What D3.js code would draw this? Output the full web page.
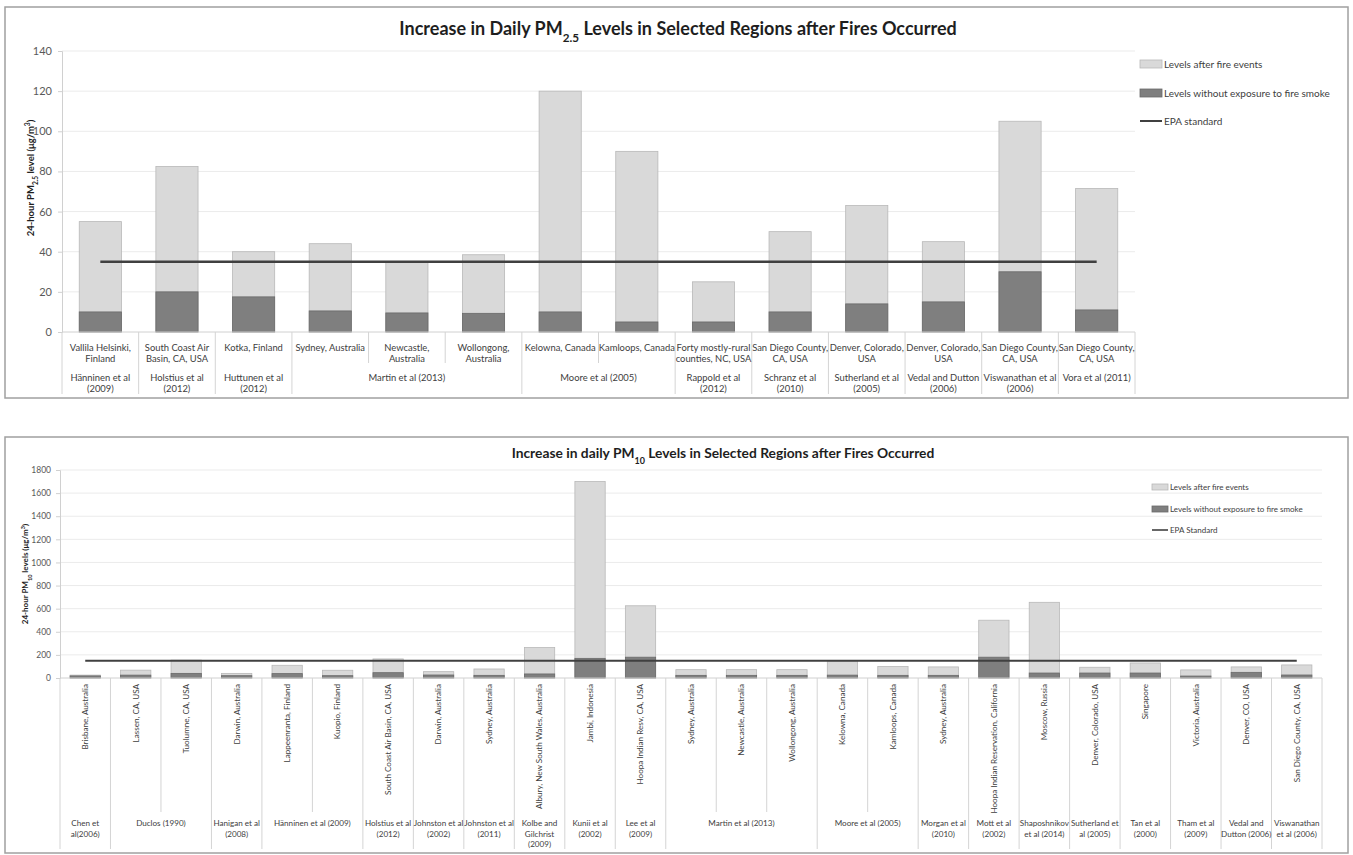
<!DOCTYPE html>
<html>
<head>
<meta charset="utf-8">
<script src="https://cdn.jsdelivr.net/npm/d3@7"></script>
<style>
  body { margin: 0; background: #fff; }
  svg { display: block; }
</style>
</head>
<body>
<svg id="chart" width="1353" height="855"></svg>
<script>
// ---------- PM2.5 panel data ----------
const pm25Sites = [
  "Vallila Helsinki,|Finland", "South Coast Air|Basin, CA, USA", "Kotka, Finland",
  "Sydney, Australia", "Newcastle,|Australia", "Wollongong,|Australia",
  "Kelowna, Canada", "Kamloops, Canada", "Forty mostly-rural|counties, NC, USA",
  "San Diego County,|CA, USA", "Denver, Colorado,|USA", "Denver, Colorado,|USA",
  "San Diego County,|CA, USA", "San Diego County,|CA, USA"
];
const pm25Studies = [
  "Hänninen et al|(2009)", "Holstius et al|(2012)", "Huttunen et al|(2012)",
  "Martin et al (2013)", "Martin et al (2013)", "Martin et al (2013)",
  "Moore et al (2005)", "Moore et al (2005)", "Rappold et al|(2012)",
  "Schranz et al|(2010)", "Sutherland et al|(2005)", "Vedal and Dutton|(2006)",
  "Viswanathan et al|(2006)", "Vora et al (2011)"
];
const pm25After    = [55, 82.5, 40, 44, 35, 38.5, 120, 90, 25, 50, 63, 45, 105, 71.5];
const pm25Baseline = [10, 20, 17.5, 10.5, 9.5, 9.3, 10, 5, 5, 10, 14, 15, 30, 11];
const pm25Standard = 35;
const pm25Ticks = [0, 20, 40, 60, 80, 100, 120, 140];

// ---------- PM10 panel data ----------
const pm10Sites = [
  "Brisbane, Australia", "Lassen, CA, USA", "Tuolumne, CA, USA", "Darwin, Australia",
  "Lappeenranta, Finland", "Kuopio, Finland", "South Coast Air Basin, CA, USA",
  "Darwin, Australia", "Sydney, Australia", "Albury, New South Wales, Australia",
  "Jambi, Indonesia", "Hoopa Indian Resv, CA, USA", "Sydney, Australia",
  "Newcastle, Australia", "Wollongong, Australia", "Kelowna, Canada", "Kamloops, Canada",
  "Sydney, Australia", "Hoopa Indian Reservation, California", "Moscow, Russia",
  "Denver, Colorado, USA", "Singapore", "Victoria, Australia", "Denver, CO, USA",
  "San Diego County, CA, USA"
];
const pm10Studies = [
  "Chen et|al(2006)", "Duclos (1990)", "Duclos (1990)", "Hanigan et al|(2008)",
  "Hänninen et al (2009)", "Hänninen et al (2009)", "Holstius et al|(2012)",
  "Johnston et al|(2002)", "Johnston et al|(2011)", "Kolbe and|Gilchrist|(2009)",
  "Kunii et al|(2002)", "Lee et al|(2009)", "Martin et al (2013)", "Martin et al (2013)",
  "Martin et al (2013)", "Moore et al (2005)", "Moore et al (2005)", "Morgan et al|(2010)",
  "Mott et al|(2002)", "Shaposhnikov|et al (2014)", "Sutherland et|al (2005)",
  "Tan et al|(2000)", "Tham et al|(2009)", "Vedal and|Dutton (2006)", "Viswanathan|et al (2006)"
];
const pm10After    = [25, 68, 155, 40, 110, 67, 165, 55, 78, 264, 1700, 625, 72, 72, 72,
                      148, 100, 96, 500, 655, 93, 130, 70, 96, 113];
const pm10Baseline = [18, 25, 40, 20, 38, 20, 46, 26, 23, 35, 170, 180, 23, 23, 23,
                      25, 23, 23, 180, 43, 43, 43, 17, 49, 26];
const pm10Standard = 150;
const pm10Ticks = [0, 200, 400, 600, 800, 1000, 1200, 1400, 1600, 1800];

const legendLabels25 = ["Levels after fire events", "Levels without exposure to fire smoke", "EPA standard"];
const legendLabels10 = ["Levels after fire events", "Levels without exposure to fire smoke", "EPA Standard"];

const FONT = "Lato, 'Open Sans', sans-serif";
const LIGHT = "#d9d9d9", LIGHT_EDGE = "#b8b8b8";
const DARK = "#7f7f7f", DARK_EDGE = "#6a6a6a";
const LINE = "#404040", TEXT = "#404040";

const svg = d3.select("#chart").style("font-family", FONT);

// append multi-line text (lines separated by "|")
function multiline(sel, str, lineH) {
  const lines = str.split("|");
  lines.forEach((ln, k) => {
    sel.append("tspan").attr("x", sel.attr("x")).attr("dy", k === 0 ? 0 : lineH).text(ln);
  });
}

function groupsOf(studies) {
  const g = [];
  studies.forEach((s, i) => {
    if (g.length && g[g.length - 1].name === s) g[g.length - 1].end = i;
    else g.push({ name: s, start: i, end: i });
  });
  return g;
}

function drawPanel(p) {
  const root = svg.append("g");
  const n = p.sites.length;

  // frame
  root.append("rect")
    .attr("x", p.frame[0]).attr("y", p.frame[1])
    .attr("width", p.frame[2]).attr("height", p.frame[3])
    .attr("fill", "#fff").attr("stroke", "#a0a0a0").attr("stroke-width", 1.5);

  const x = d3.scaleBand().domain(d3.range(n)).range([p.left, p.right]).padding(0);
  const step = x.step();
  const y = d3.scaleLinear().domain([0, d3.max(p.ticks)]).range([p.bottom, p.top]);

  // gridlines
  root.append("g").selectAll("line").data(p.ticks.filter(t => t > 0)).join("line")
    .attr("x1", p.left).attr("x2", p.right)
    .attr("y1", d => y(d)).attr("y2", d => y(d))
    .attr("stroke", "#ebebeb").attr("stroke-width", 1);

  // y axis
  const ax = root.append("g").attr("transform", `translate(${p.left},0)`)
    .call(d3.axisLeft(y).tickValues(p.ticks).tickFormat(d3.format("d")).tickSize(4).tickPadding(p.tickPad));
  ax.select(".domain").attr("stroke", "#d0d0d0");
  ax.selectAll(".tick line").attr("stroke", "#d0d0d0");
  ax.selectAll(".tick text").attr("fill", "#595959")
    .style("font-family", FONT).style("font-size", p.tickFont + "px");

  // bars: total level after fire, with the smoke-free baseline over it
  const bw = step * p.barFrac;
  root.append("g").selectAll("rect").data(p.after).join("rect")
    .attr("x", (d, i) => x(i) + (step - bw) / 2).attr("width", bw)
    .attr("y", d => y(d)).attr("height", d => y(0) - y(d))
    .attr("fill", LIGHT).attr("stroke", LIGHT_EDGE).attr("stroke-width", 0.8);
  root.append("g").selectAll("rect").data(p.baseline).join("rect")
    .attr("x", (d, i) => x(i) + (step - bw) / 2).attr("width", bw)
    .attr("y", d => y(d)).attr("height", d => y(0) - y(d))
    .attr("fill", DARK).attr("stroke", DARK_EDGE).attr("stroke-width", 0.8);

  // EPA standard, spanning first to last category centre
  root.append("path")
    .datum([0, n - 1])
    .attr("d", d3.line().x(i => x(i) + step / 2).y(() => y(p.standard)))
    .attr("stroke", LINE).attr("stroke-width", p.lineW).attr("fill", "none");

  // x baseline
  root.append("line").attr("x1", p.left).attr("x2", p.right)
    .attr("y1", y(0)).attr("y2", y(0)).attr("stroke", "#d0d0d0");

  // category separators (full between studies, short within a study)
  const bounds = d3.range(n + 1);
  root.append("g").selectAll("line").data(bounds).join("line")
    .attr("x1", b => p.left + b * step).attr("x2", b => p.left + b * step)
    .attr("y1", y(0))
    .attr("y2", b => (b === 0 || b === n || p.studies[b] !== p.studies[b - 1]) ? p.sepFull : p.sepSub)
    .attr("stroke", "#d4d4d4").attr("stroke-width", 1);

  // site labels
  const siteG = root.append("g").attr("fill", TEXT).style("font-size", p.siteFont + "px");
  if (p.rotate) {
    p.sites.forEach((s, i) => {
      const cx = x(i) + step / 2;
      siteG.append("text")
        .attr("transform", `translate(${cx + p.siteFont * 0.35},${p.siteY}) rotate(-90)`)
        .attr("text-anchor", "end").text(s);
    });
  } else {
    p.sites.forEach((s, i) => {
      const t = siteG.append("text").attr("x", x(i) + step / 2).attr("y", p.siteY)
        .attr("text-anchor", "middle");
      multiline(t, s, p.lineH);
    });
  }

  // study labels
  const studyG = root.append("g").attr("fill", TEXT).style("font-size", p.siteFont + "px");
  groupsOf(p.studies).forEach(g => {
    const cx = p.left + (g.start + g.end + 1) / 2 * step;
    const t = studyG.append("text").attr("x", cx).attr("y", p.studyY).attr("text-anchor", "middle");
    multiline(t, g.name, p.lineH);
  });

  // title
  const tt = root.append("text").attr("x", p.titleX).attr("y", p.titleY)
    .attr("text-anchor", "middle").attr("fill", "#1e1e1e")
    .style("font-size", p.titleFont + "px").style("font-weight", "bold");
  tt.append("tspan").text(p.title[0]);
  tt.append("tspan").attr("baseline-shift", "sub").style("font-size", (p.titleFont * 0.65) + "px").text(p.title[1]);
  tt.append("tspan").text(p.title[2]);

  // y axis title
  const yt = root.append("text")
    .attr("transform", `translate(${p.yTitleX},${p.yTitleY}) rotate(-90)`)
    .attr("text-anchor", "middle").attr("fill", "#1e1e1e")
    .style("font-size", p.yTitleFont + "px").style("font-weight", "bold");
  yt.append("tspan").text(p.yTitle[0]);
  yt.append("tspan").attr("baseline-shift", "sub").style("font-size", (p.yTitleFont * 0.7) + "px").text(p.yTitle[1]);
  yt.append("tspan").text(p.yTitle[2]);
  yt.append("tspan").attr("baseline-shift", "super").style("font-size", (p.yTitleFont * 0.7) + "px").text("3");
  yt.append("tspan").text(")");

  // legend
  const lg = root.append("g").attr("transform", `translate(${p.legend.x},0)`)
    .style("font-size", p.legend.font + "px").attr("fill", TEXT);
  const sw = p.legend.sw, sh = p.legend.sh;
  lg.append("rect").attr("x", 0).attr("y", p.legend.ys[0] - sh / 2).attr("width", sw).attr("height", sh)
    .attr("fill", LIGHT).attr("stroke", LIGHT_EDGE).attr("stroke-width", 0.8);
  lg.append("rect").attr("x", 0).attr("y", p.legend.ys[1] - sh / 2).attr("width", sw).attr("height", sh)
    .attr("fill", DARK).attr("stroke", DARK_EDGE).attr("stroke-width", 0.8);
  lg.append("line").attr("x1", 0).attr("x2", sw).attr("y1", p.legend.ys[2]).attr("y2", p.legend.ys[2])
    .attr("stroke", LINE).attr("stroke-width", p.lineW * 0.8);
  p.legendLabels.forEach((l, k) => {
    lg.append("text").attr("x", sw + 2).attr("y", p.legend.ys[k]).attr("dy", "0.35em").text(l);
  });
}

drawPanel({
  sites: pm25Sites, studies: pm25Studies, after: pm25After, baseline: pm25Baseline,
  standard: pm25Standard, ticks: pm25Ticks, legendLabels: legendLabels25,
  frame: [5, 7, 1343, 391],
  left: 62, right: 1135, bottom: 332, top: 51,
  barFrac: 0.55, lineW: 2.5,
  tickFont: 11, tickPad: 6,
  rotate: false, siteFont: 9.4, siteY: 350.5, lineH: 11.8, studyY: 380.5,
  sepSub: 363, sepFull: 394,
  title: ["Increase in Daily PM", "2.5", " Levels in Selected Regions after Fires Occurred"],
  titleX: 678, titleY: 35, titleFont: 18,
  yTitle: ["24-hour PM", "2.5", " level (μg/m"], yTitleX: 34, yTitleY: 178, yTitleFont: 9.5,
  legend: { x: 1140, ys: [64, 93, 121], sw: 22, sh: 8, font: 10 }
});

drawPanel({
  sites: pm10Sites, studies: pm10Studies, after: pm10After, baseline: pm10Baseline,
  standard: pm10Standard, ticks: pm10Ticks, legendLabels: legendLabels10,
  frame: [5, 437, 1343, 416],
  left: 60, right: 1322, bottom: 678, top: 470,
  barFrac: 0.6, lineW: 2,
  tickFont: 8.5, tickPad: 5,
  rotate: true, siteFont: 8.1, siteY: 684, lineH: 10.5, studyY: 826,
  sepSub: 812, sepFull: 849,
  title: ["Increase in daily PM", "10", " Levels in Selected Regions after Fires Occurred"],
  titleX: 723, titleY: 458, titleFont: 13.8,
  yTitle: ["24-hour PM", "10", " levels  (μg/m"], yTitleX: 28, yTitleY: 574, yTitleFont: 8,
  legend: { x: 1152, ys: [487, 509, 530], sw: 16, sh: 6, font: 8 }
});
</script>
</body>
</html>
